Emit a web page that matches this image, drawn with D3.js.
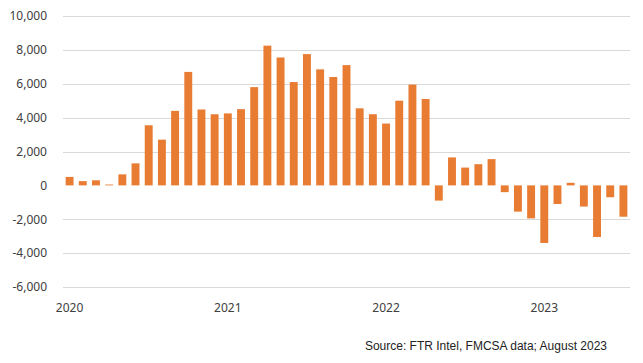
<!DOCTYPE html>
<html>
<head>
<meta charset="utf-8">
<script src="https://cdn.jsdelivr.net/npm/d3@7/dist/d3.min.js"></script>
<style>
  body { margin: 0; background: #fff; }
  #wrapper svg { display: block; }
</style>
</head>
<body>
<div id="wrapper"></div>
<script>
// monthly values, Jan 2020 - Jul 2023
const months = d3.range(43).map(i => new Date(2020, i, 1))
const values = [
  500, 250, 300, 50, 650, 1300, 3550, 2700, 4400, 6700, 4480, 4200,
  4250, 4500, 5800, 8250, 7550, 6100, 7750, 6850, 6400, 7100, 4550, 4200,
  3650, 5000, 5950, 5100, -900, 1650, 1050, 1250, 1550, -400, -1550, -1950,
  -3400, -1100, 150, -1250, -3050, -700, -1850
]
const yTicks = [-6000, -4000, -2000, 0, 2000, 4000, 6000, 8000, 10000]
const yearLabels = ["2020", "2021", "2022", "2023"]
const sourceText = "Source: FTR Intel, FMCSA data; August 2023"

const data = months.map((d, i) => ({ date: d, value: values[i] }))

const dimensions = {
  width: 643,
  height: 363,
  margins: { top: 16, right: 13, bottom: 76, left: 63 },
}
dimensions.boundedWidth = dimensions.width - dimensions.margins.left - dimensions.margins.right
dimensions.boundedHeight = dimensions.height - dimensions.margins.top - dimensions.margins.bottom

const wrapper = d3.select("#wrapper")
  .append("svg")
    .attr("width", dimensions.width)
    .attr("height", dimensions.height)

const bounds = wrapper.append("g")
  .attr("transform", `translate(${dimensions.margins.left},${dimensions.margins.top})`)

const xScale = d3.scaleBand()
  .domain(d3.range(data.length))
  .range([0, dimensions.boundedWidth])
  .paddingInner(0.4)
  .paddingOuter(0.2)

const yScale = d3.scaleLinear()
  .domain([-6000, 10000])
  .range([dimensions.boundedHeight, 0])

// gridlines (no line at zero)
bounds.append("g")
  .selectAll("line")
  .data(yTicks.filter(d => d !== 0))
  .join("line")
    .attr("x1", 0)
    .attr("x2", dimensions.boundedWidth)
    .attr("y1", d => Math.round(yScale(d)) + 0.5)
    .attr("y2", d => Math.round(yScale(d)) + 0.5)
    .attr("stroke", "#d9d9d9")
    .attr("stroke-width", 1.2)

bounds.append("g")
  .selectAll("rect")
  .data(data)
  .join("rect")
    .attr("x", (d, i) => xScale(i))
    .attr("width", xScale.bandwidth())
    .attr("y", d => yScale(Math.max(0, d.value)))
    .attr("height", d => Math.abs(yScale(d.value) - yScale(0)))
    .attr("fill", "#e97c33")

// y axis labels, plain hyphen for negatives
const fmt = d3.format(",")
const yAxis = bounds.append("g")
  .call(d3.axisLeft(yScale).tickValues(yTicks).tickSize(0).tickPadding(16)
    .tickFormat(d => fmt(d).replace("\u2212", "-")))
  .style("font-family", "'Noto Sans', sans-serif")
  .style("font-size", "12px")
yAxis.select(".domain").remove()
yAxis.selectAll("text").attr("fill", "#404040")

// year labels under January bars
const yearIdx = [0, 12, 24, 36]
bounds.append("g")
  .selectAll("text")
  .data(yearIdx)
  .join("text")
    .attr("x", d => xScale(d) + xScale.bandwidth() / 2)
    .attr("y", dimensions.boundedHeight + 25)
    .attr("text-anchor", "middle")
    .style("font-family", "'Noto Sans', sans-serif")
    .style("font-size", "12px")
    .attr("fill", "#404040")
    .text((d, i) => yearLabels[i])

wrapper.append("text")
  .attr("x", 607)
  .attr("y", 350)
  .attr("text-anchor", "end")
  .style("font-family", "'Liberation Sans', Arial, sans-serif")
  .style("font-size", "12px")
  .attr("fill", "#222")
  .text(sourceText)
</script>
</body>
</html>
